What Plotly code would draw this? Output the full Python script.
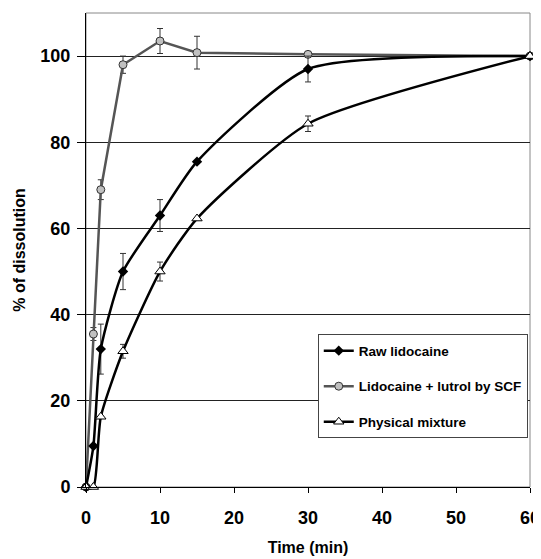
import plotly.graph_objects as go

time = [0, 1, 2, 5, 10, 15, 30, 60]
raw = [0, 9.5, 32, 50, 63, 75.5, 97, 100]
raw_err = [0, 0, 5.8, 4.2, 3.7, 0, 3, 0]
scf = [0, 35.5, 69, 98, 103.5, 100.8, 100.4, 100]
scf_err = [0, 1.5, 2.3, 2, 2.9, 3.8, 0, 0]
phys = [0, 0, 16.3, 31.5, 50, 62.3, 84.3, 100]
phys_err = [0, 0, 0, 1.6, 2.2, 0, 1.8, 0]

xticks = [0, 10, 20, 30, 40, 50, 60]
yticks = [0, 20, 40, 60, 80, 100]

FONT = "Liberation Sans, Arial, sans-serif"

fig = go.Figure()

fig.add_trace(go.Scatter(
    x=time, y=scf, name="Lidocaine + lutrol by SCF", mode="lines+markers",
    line=dict(color="#555555", width=2.5),
    marker=dict(symbol="circle", size=8, color="#c0c0c0", line=dict(color="#333", width=1)),
    error_y=dict(type="data", array=scf_err, color="#333", thickness=1, width=3),
    cliponaxis=False, legendrank=2, legendgroup="b"))

fig.add_trace(go.Scatter(
    x=time, y=raw, name="Raw lidocaine", mode="lines+markers",
    line=dict(color="black", width=2.5, shape="spline", smoothing=0.6),
    marker=dict(symbol="diamond", size=8, color="black"),
    error_y=dict(type="data", array=raw_err, color="#333", thickness=1, width=3),
    cliponaxis=False, legendrank=1, legendgroup="a"))

fig.add_trace(go.Scatter(
    x=time, y=phys, name="Physical mixture", mode="lines+markers",
    line=dict(color="black", width=2.5, shape="spline", smoothing=0.6),
    marker=dict(symbol="triangle-up", size=9, color="white", line=dict(color="black", width=1)),
    error_y=dict(type="data", array=phys_err, color="#333", thickness=1, width=3),
    cliponaxis=False, legendrank=3, legendgroup="c"))

fig.add_shape(type="rect", xref="paper", yref="paper", x0=0, y0=0, x1=1, y1=1,
              line=dict(color="#888", width=1), layer="below")

fig.update_layout(
    width=533, height=551,
    margin=dict(l=78, r=11, t=5, b=72, autoexpand=False),
    paper_bgcolor="white", plot_bgcolor="white",
    font=dict(family=FONT, size=14, color="black"),
    showlegend=True,
    legend=dict(x=0.522, y=0.322, xanchor="left", yanchor="top",
                bgcolor="white", bordercolor="#444", borderwidth=1,
                font=dict(family=FONT, size=13.5, color="black", weight="bold"),
                tracegroupgap=15, traceorder="grouped", itemwidth=30),
    xaxis=dict(range=[0, 60], tickvals=xticks, ticks="outside", ticklen=5,
               tickcolor="black", showline=True, linecolor="black", linewidth=1,
               showgrid=False, zeroline=False, automargin=False,
               ticklabelstandoff=9,
               tickfont=dict(family=FONT, size=18, weight="bold"),
               title=dict(text="Time (min)", standoff=15,
                          font=dict(family=FONT, size=16, weight="bold"))),
    yaxis=dict(range=[0, 110], tickvals=yticks, ticks="outside", ticklen=8,
               tickcolor="black", showline=True, linecolor="black", linewidth=1,
               showgrid=True, gridcolor="#222", gridwidth=1, zeroline=False,
               automargin=False, ticklabelstandoff=3,
               tickfont=dict(family=FONT, size=18, weight="bold"),
               title=dict(text="% of dissolution", standoff=10,
                          font=dict(family=FONT, size=16, weight="bold"))),
)

fig.write_html("out.html")
